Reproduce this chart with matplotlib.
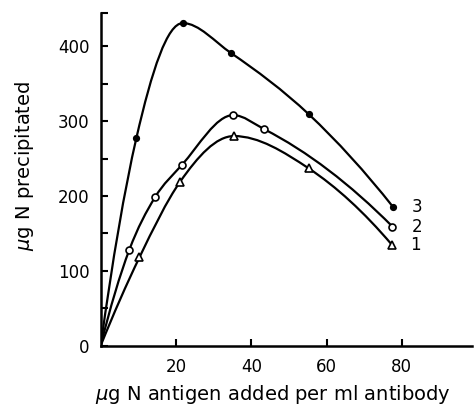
import numpy as np
import matplotlib
matplotlib.use("Agg")
import matplotlib.pyplot as plt
from matplotlib.path import Path
from matplotlib.patches import PathPatch

# antigen added (ug N / ml antibody) and N precipitated (ug) for the three curves
x1 = [10.3, 21.1, 35.4, 55.2, 77.3]
y1 = [118, 219, 280, 237, 135]
x2 = [7.6, 14.4, 21.5, 35.2, 43.5, 77.5]
y2 = [128, 198, 241, 308, 289, 159]
x3 = [9.5, 21.8, 34.6, 55.3, 77.7]
y3 = [278, 431, 391, 309, 185]
curve_labels = ["1", "2", "3"]


def smooth_path(xs, ys):
    """Smooth hand-drawn style curve from the origin through the points."""
    x = np.array([0.0] + list(xs))
    y = np.array([0.0] + list(ys), dtype=float)
    h = np.diff(x)
    d = np.diff(y) / h
    n = len(x)
    m = np.zeros(n)
    m[0] = ((2 * h[0] + h[1]) * d[0] - h[0] * d[1]) / (h[0] + h[1])
    m[-1] = ((2 * h[-1] + h[-2]) * d[-1] - h[-1] * d[-2]) / (h[-1] + h[-2])
    for i in range(1, n - 1):
        if d[i - 1] * d[i] <= 0:
            m[i] = 0.0  # flat at the top of the curve
        else:
            m[i] = (h[i - 1] * d[i] + h[i] * d[i - 1]) / (h[i - 1] + h[i])
    verts = [(x[0], y[0])]
    codes = [Path.MOVETO]
    for i in range(n - 1):
        verts += [(x[i] + h[i] / 3, y[i] + m[i] * h[i] / 3),
                  (x[i + 1] - h[i] / 3, y[i + 1] - m[i + 1] * h[i] / 3),
                  (x[i + 1], y[i + 1])]
        codes += [Path.CURVE4] * 3
    return Path(verts, codes)


fig = plt.figure(figsize=(4.74, 4.07), dpi=100)
ax = fig.add_axes([0.2125, 0.151, 0.783, 0.818])

series = [(x1, y1, "^", "white", 5.5), (x2, y2, "o", "white", 5),
          (x3, y3, "o", "black", 4)]
for xs, ys, mk, fc, ms in series:
    ax.add_patch(PathPatch(smooth_path(xs, ys), fc="none", ec="black", lw=1.6))
    ax.plot(xs, ys, ls="none", marker=mk, mfc=fc, mec="black", mew=1.2, ms=ms,
            zorder=3)

for lab, xs, ys in zip(curve_labels, [x1, x2, x3], [y1, y2, y3]):
    ax.text(xs[-1] + 5, ys[-1], lab, fontsize=12, va="center", ha="left")

ax.set_xlim(0, 98.6)
ax.set_ylim(0, 445)
ax.set_xticks([20, 40, 60, 80])
ax.set_yticks([0, 100, 200, 300, 400])
ax.set_yticks([50, 150, 250, 350, 445], minor=True)
ax.tick_params(direction="in", length=5, width=1.5, labelsize=12)
ax.tick_params(axis="y", pad=8)
ax.tick_params(axis="x", pad=9)
ax.tick_params(which="minor", direction="in", length=5, width=1.5)
ax.spines["top"].set_visible(False)
ax.spines["right"].set_visible(False)
for s in ["left", "bottom"]:
    ax.spines[s].set_linewidth(1.8)

ax.set_xlabel("$\\mu$g N antigen added per ml antibody", fontsize=14)
ax.set_ylabel("$\\mu$g N precipitated", fontsize=14)
ax.yaxis.set_label_coords(-0.175, 0.54)
ax.xaxis.set_label_coords(0.465, -0.112)

fig.savefig("out.png", dpi=100)
